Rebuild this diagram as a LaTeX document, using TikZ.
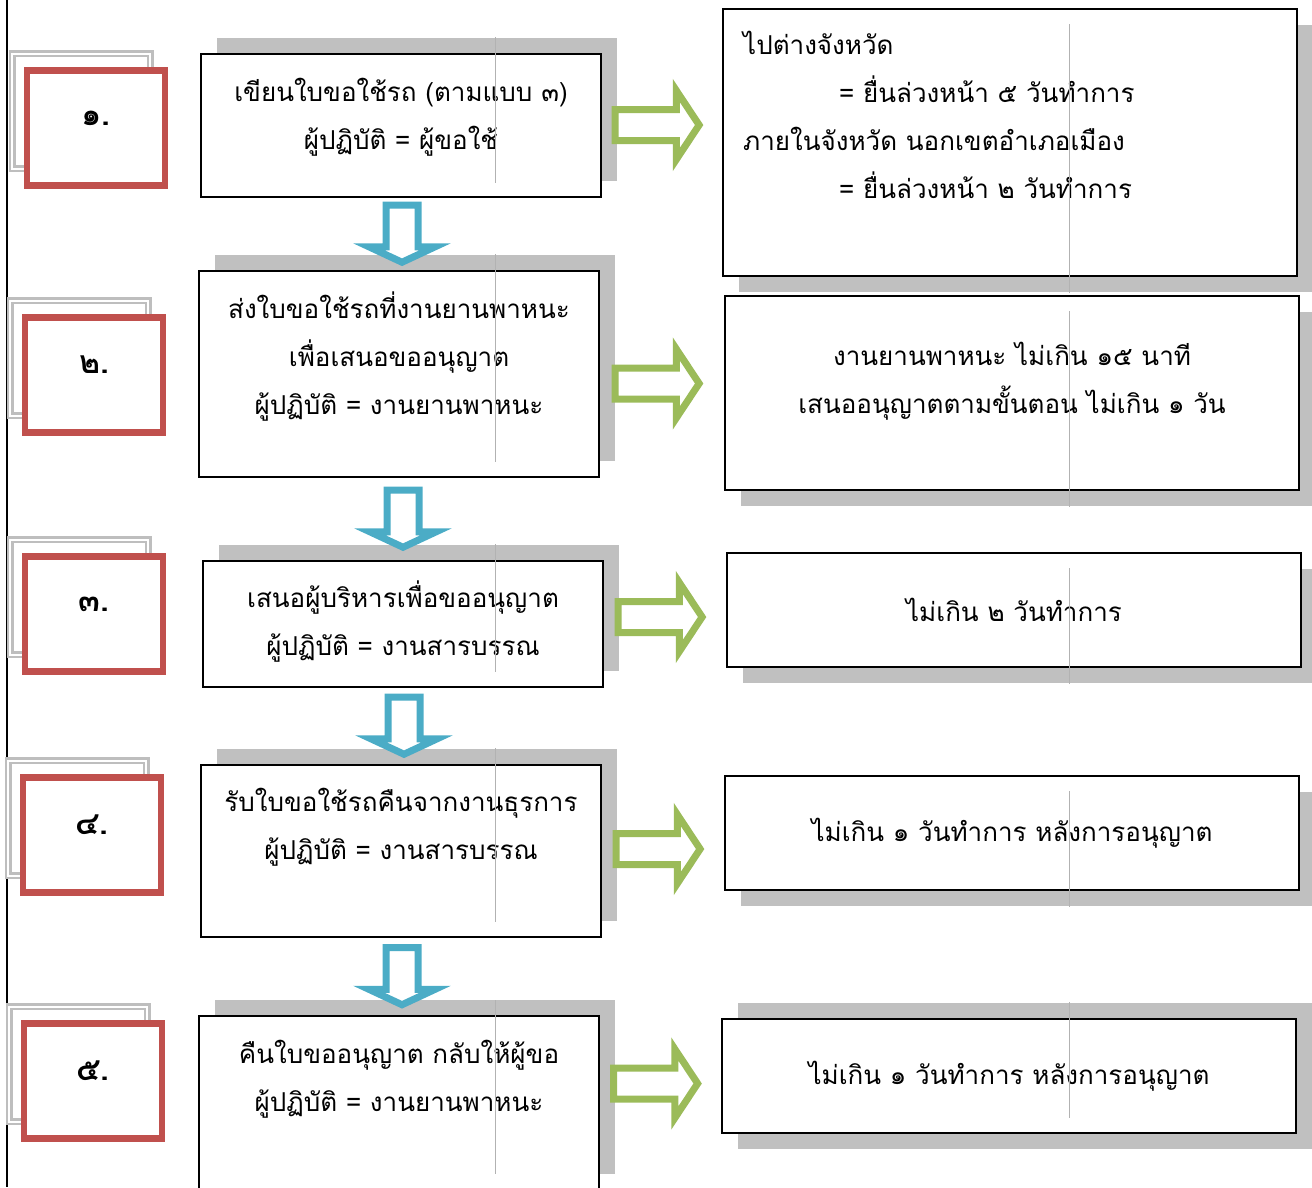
\documentclass[tikz,border=0pt]{standalone}
\usepackage{fontspec}
\setmainfont[Script=Thai]{Loma}
\usetikzlibrary{positioning,shapes.arrows,shadows,calc}
\definecolor{rouge}{HTML}{C0504D}
\definecolor{bleu}{HTML}{4BACC6}
\definecolor{vert}{HTML}{9BBB59}
\definecolor{ombre}{HTML}{C0C0C0}
\definecolor{cadre}{HTML}{BEBEBE}
\begin{document}
\begin{tikzpicture}[x=1pt,y=-1pt,
 boite/.style={draw=black,line width=1.8pt,fill=white,inner sep=0pt,outer sep=0pt},
 etape/.style={boite,minimum width=400pt,drop shadow={shadow xshift=16pt,shadow yshift=16pt,fill=ombre,opacity=1}},
 delai/.style={boite,minimum width=574pt,minimum height=114pt,font=\fontsize{26}{48}\selectfont,drop shadow={shadow xshift=16pt,shadow yshift=-16pt,fill=ombre,opacity=1}},
 numero/.style={draw=rouge,line width=6.5pt,fill=white,inner sep=0pt,outer sep=0pt,minimum width=138pt,minimum height=115pt,font=\bfseries\fontsize{32}{32}\selectfont,text depth=20pt,general shadow={shadow xshift=-15pt,shadow yshift=17pt,draw=cadre,double=white,double distance=2pt,line width=2.5pt}},
 texte/.style={align=center,inner sep=0pt,font=\fontsize{26}{48}\selectfont},
 descente/.style={single arrow,draw=bleu,line width=7pt,fill=white,rotate=-90,minimum height=57pt,inner xsep=0pt,inner ysep=12.5pt,single arrow head extend=17pt,single arrow tip angle=130},
 suite/.style={single arrow,draw=vert,line width=7pt,fill=white,minimum height=84pt,inner xsep=0pt,inner ysep=12pt,single arrow head extend=19pt,single arrow tip angle=113},
 repere/.style={draw=gray!60,line width=0.7pt}]
\path[use as bounding box,clip] (0,0) rectangle (1312,1187);
\draw[line width=1.5pt] (7,0) -- (7,1187);%marge
% numeros
\node[numero] (num1) at (96,128) {๑.};
\node[numero] (num2) at (94,375) {๒.};
\node[numero] (num3) at (94,614) {๓.};
\node[numero] (num4) at (92,835) {๔.};
\node[numero] (num5) at (93,1081) {๕.};
% etapes
\node[etape,minimum height=143pt] (etape1) at (401,125.5) {};
\node[etape,minimum height=206pt] (etape2) at (399,374) {};
\node[etape,minimum height=126pt] (etape3) at (403,624) {};
\node[etape,minimum height=172pt] (etape4) at (401,851) {};
\node[etape,minimum height=174pt] (etape5) at (399,1103) {};
\node[texte,anchor=north] (texte1) at ([yshift=-24pt]etape1.north) {เขียนใบขอใช้รถ (ตามแบบ ๓)\\ผู้ปฏิบัติ = ผู้ขอใช้};
\node[texte,anchor=north] (texte2) at ([yshift=-21pt]etape2.north) {ส่งใบขอใช้รถที่งานยานพาหนะ\\เพื่อเสนอขออนุญาต\\ผู้ปฏิบัติ = งานยานพาหนะ};
\node[texte,anchor=north] (texte3) at ([yshift=-20pt]etape3.north) {เสนอผู้บริหารเพื่อขออนุญาต\\ผู้ปฏิบัติ = งานสารบรรณ};
\node[texte,anchor=north] (texte4) at ([yshift=-23pt]etape4.north) {รับใบขอใช้รถคืนจากงานธุรการ\\ผู้ปฏิบัติ = งานสารบรรณ};
\node[texte,anchor=north] (texte5) at ([yshift=-24pt]etape5.north) {คืนใบขออนุญาต กลับให้ผู้ขอ\\ผู้ปฏิบัติ = งานยานพาหนะ};
% delais
\node[delai,minimum height=267pt] (delai1) at (1010,142.5) {};
\node[delai,minimum height=194pt] (delai2) at (1012,393) {};
\node[delai] (delai3) at (1014,610) {ไม่เกิน ๒ วันทำการ};
\node[delai] (delai4) at (1012,833) {ไม่เกิน ๑ วันทำการ หลังการอนุญาต};
\node[delai,drop shadow={shadow xshift=16pt,shadow yshift=16pt,fill=ombre,opacity=1}] (delai5) at (1009,1076) {ไม่เกิน ๑ วันทำการ หลังการอนุญาต};
\node[texte,align=left,anchor=north west] (info1) at ([xshift=20pt,yshift=-22pt]delai1.north west) {ไปต่างจังหวัด\\\hspace*{96pt}= ยื่นล่วงหน้า ๕ วันทำการ\\ภายในจังหวัด นอกเขตอำเภอเมือง\\\hspace*{96pt}= ยื่นล่วงหน้า ๒ วันทำการ};
\node[texte] (info2) at ([yshift=12pt]delai2.center) {งานยานพาหนะ ไม่เกิน ๑๕ นาที\\เสนออนุญาตตามขั้นตอน ไม่เกิน ๑ วัน};
% fleches
\foreach \i/\j in {1/2,2/3,3/4,4/5}
  \node[xshift=2pt,yshift=4pt,descente] (bas\i) at ($(etape\i.south)!0.5!(etape\j.north)$) {};
\foreach \i/\d in {1/9,2/0,3/0,4/-7,5/6}
  \node[suite,xshift=-10pt,yshift=\d pt] (droite\i) at ($(etape\i.east)!0.5!(delai\i.west)$) {};
% reperes
\foreach \h/\b in {37/183,254/462,544/672,748/922,1000/1174}
  \draw[repere] (495,\h) -- (495,\b);
\foreach \h/\b in {24/293,311/507,568/684,791/907,1002/1118}
  \draw[repere] (1069,\h) -- (1069,\b);
\end{tikzpicture}
\end{document}
